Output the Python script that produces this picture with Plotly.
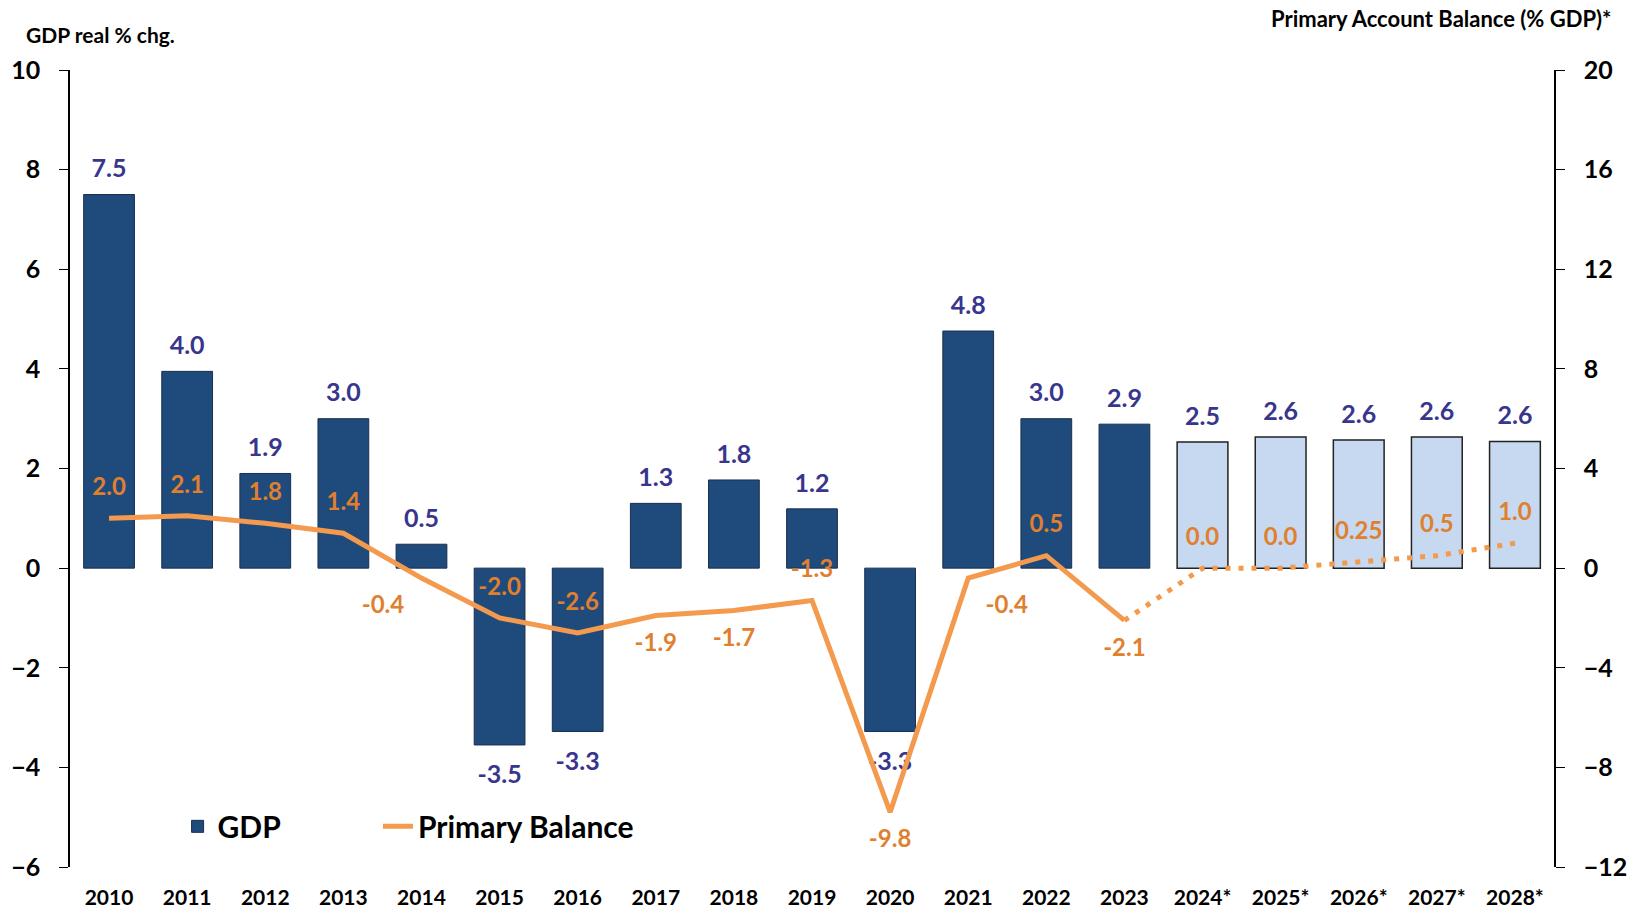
import plotly.graph_objects as go

# categories
years = ['2010', '2011', '2012', '2013', '2014', '2015', '2016', '2017', '2018', '2019',
         '2020', '2021', '2022', '2023', '2024*', '2025*', '2026*', '2027*', '2028*']

# GDP real % change (actual years, then forecast years)
gdp_actual = [7.5, 3.95, 1.9, 3.0, 0.48, -3.55, -3.28, 1.3, 1.77, 1.19, -3.28, 4.76, 3.0, 2.89]
gdp_forecast = [2.53, 2.63, 2.57, 2.63, 2.54]
gdp_labels = ['7.5', '4.0', '1.9', '3.0', '0.5', '-3.5', '-3.3', '1.3', '1.8', '1.2', '-3.3',
              '4.8', '3.0', '2.9', '2.5', '2.6', '2.6', '2.6', '2.6']

# primary account balance (% GDP)
pb_actual = [2.0, 2.1, 1.8, 1.4, -0.4, -2.0, -2.6, -1.9, -1.7, -1.3, -9.8, -0.4, 0.5, -2.1]
pb_forecast = [-2.1, 0.0, 0.0, 0.25, 0.5, 1.0]  # starts at 2023
pb_labels = ['2.0', '2.1', '1.8', '1.4', '-0.4', '-2.0', '-2.6', '-1.9', '-1.7', '-1.3', '-9.8',
             '-0.4', '0.5', '-2.1', '0.0', '0.0', '0.25', '0.5', '1.0']
pb_pos = ['top center', 'top center', 'top center', 'top center', 'bottom left', 'top center',
          'top center', 'bottom center', 'bottom center', 'top center', 'bottom center',
          'bottom right', 'top center', 'bottom center', 'top center', 'top center',
          'top center', 'top center', 'top center']

FONT = 'Lato, Carlito, Open Sans, sans-serif'
dark_bar = '#1F4A7C'
light_bar = '#C6D9F0'
gdp_txt = '#38368C'
orange = '#F39A4E'
orange_txt = '#E0802E'

gdp_all = gdp_actual + gdp_forecast
pb_all = pb_actual + pb_forecast[1:]

fig = go.Figure()

fig.add_trace(go.Bar(
    x=years[:14], y=gdp_actual, name='GDP', legend='legend',
    marker=dict(color=dark_bar, line=dict(color='#1B2F4E', width=1)),
))
fig.add_trace(go.Bar(
    x=years[14:], y=gdp_forecast, name='GDP forecast', showlegend=False,
    marker=dict(color=light_bar, line=dict(color='#222222', width=1.5)),
))
# value labels: invisible markers just push the text off the bar ends
fig.add_trace(go.Scatter(
    x=years, y=gdp_all, mode='markers+text', text=gdp_labels, showlegend=False,
    textposition=['top center' if v >= 0 else 'bottom center' for v in gdp_all],
    marker=dict(size=[16 if v >= 0 else 30 for v in gdp_all], opacity=0),
    textfont=dict(family=FONT, size=25, color=gdp_txt, weight='bold'),
    cliponaxis=False, hoverinfo='skip',
))

fig.add_trace(go.Scatter(
    x=years[:14], y=pb_actual, yaxis='y2', mode='lines', name='Primary Balance',
    legend='legend2', line=dict(color=orange, width=5),
))
fig.add_trace(go.Scatter(
    x=years[13:], y=pb_forecast, yaxis='y2', mode='lines', showlegend=False,
    line=dict(color=orange, width=5, dash='5px,8px'),
))
fig.add_trace(go.Scatter(
    x=years, y=pb_all, yaxis='y2', mode='markers+text', text=pb_labels, showlegend=False,
    textposition=pb_pos, marker=dict(size=26, opacity=0),
    textfont=dict(family=FONT, size=24, color=orange_txt, weight='bold'),
    cliponaxis=False, hoverinfo='skip',
))

tickfont = dict(family=FONT, size=25, color='black', weight='bold')
legfont = dict(family=FONT, size=30, color='black', weight='bold')

fig.update_layout(
    width=1636, height=913,
    margin=dict(l=70, r=82, t=70, b=46),
    paper_bgcolor='white', plot_bgcolor='white',
    barmode='overlay', bargap=0.35,
    font=dict(family=FONT, color='black'),
    xaxis=dict(
        type='category', categoryorder='array', categoryarray=years, range=[-0.5, 18.5],
        showline=False, ticks='', showgrid=False, zeroline=False, automargin=False,
        tickfont=dict(family=FONT, size=21, color='black', weight='bold'),
        ticklabelstandoff=16,
    ),
    # zero line of the category axis, with boundary ticks crossing it
    xaxis2=dict(
        overlaying='x', anchor='free', position=0.375, range=[-0.5, 18.5],
        tickmode='linear', tick0=0.5, dtick=1, ticks='outside', ticklen=9,
        tickcolor='black', showline=True, linecolor='black', linewidth=1.5,
        showticklabels=False, showgrid=False, zeroline=False,
    ),
    xaxis3=dict(
        overlaying='x', anchor='free', position=0.375, range=[-0.5, 18.5],
        tickmode='linear', tick0=0.5, dtick=1, ticks='inside', ticklen=9,
        tickcolor='black', showline=False, showticklabels=False, showgrid=False, zeroline=False,
    ),
    yaxis=dict(
        range=[-6, 10], dtick=2, showgrid=False, zeroline=False, automargin=False,
        showline=True, linecolor='black', linewidth=1.5,
        ticks='outside', ticklen=9, tickcolor='black', tickfont=tickfont,
        ticklabelstandoff=14,
    ),
    yaxis2=dict(
        range=[-12, 20], dtick=4, overlaying='y', side='right', anchor='x', automargin=False,
        showgrid=False, zeroline=False, showline=True, linecolor='black', linewidth=1.5,
        ticks='outside', ticklen=9, tickcolor='black', tickfont=tickfont,
        ticklabelstandoff=14,
    ),
    yaxis3=dict(
        range=[-6, 10], dtick=2, overlaying='y', side='left', anchor='x',
        ticks='inside', ticklen=9, tickcolor='black', showticklabels=False,
        showgrid=False, zeroline=False, showline=False,
    ),
    yaxis4=dict(
        range=[-12, 20], dtick=4, overlaying='y', side='right', anchor='x',
        ticks='inside', ticklen=9, tickcolor='black', showticklabels=False,
        showgrid=False, zeroline=False, showline=False,
    ),
    legend=dict(
        orientation='h', x=0.0725, y=0.051, xanchor='left', yanchor='middle',
        font=legfont, bgcolor='rgba(0,0,0,0)',
    ),
    legend2=dict(
        orientation='h', x=0.2075, y=0.051, xanchor='left', yanchor='middle',
        font=legfont, bgcolor='rgba(0,0,0,0)',
    ),
    annotations=[
        dict(text='GDP real % chg.', xref='paper', yref='paper', x=-0.031, y=1.044,
             xanchor='left', yanchor='middle', showarrow=False,
             font=dict(family=FONT, size=21, color='black', weight='bold')),
        dict(text='Primary Account Balance (% GDP)*', xref='paper', yref='paper', x=1.04, y=1.064,
             xanchor='right', yanchor='middle', showarrow=False,
             font=dict(family=FONT, size=22, color='black', weight='bold')),
    ],
)

fig.write_html('out.html', config={'displayModeBar': False},
               post_script="document.body.style.margin='0';")
